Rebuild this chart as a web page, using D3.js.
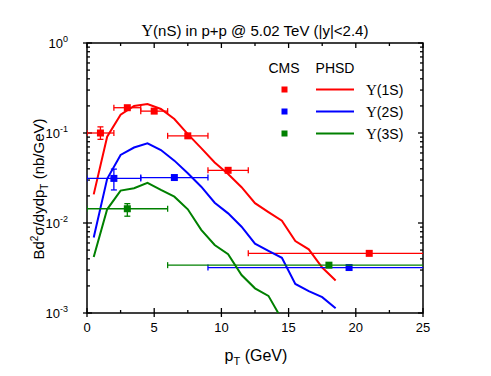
<!DOCTYPE html>
<html>
<head>
<meta charset="utf-8">
<script src="https://cdn.jsdelivr.net/npm/d3@7"></script>
<style>
  body { margin: 0; background: #fff; }
  svg { font-family: Arial, 'Liberation Sans', sans-serif; }
</style>
</head>
<body>
<svg width="491" height="376"></svg>
<script>
// CMS data points: pT, value, pT error low/high, value error low/high
const cms1S = [
  { x: 1, y: 0.1, xlo: 0, xhi: 2, ylo: 0.085, yhi: 0.117 },
  { x: 3, y: 0.191, xlo: 2, xhi: 4, ylo: 0.191, yhi: 0.191 },
  { x: 5, y: 0.175, xlo: 4, xhi: 6, ylo: 0.175, yhi: 0.175 },
  { x: 7.5, y: 0.093, xlo: 6, xhi: 9, ylo: 0.093, yhi: 0.093 },
  { x: 10.5, y: 0.0385, xlo: 9, xhi: 12, ylo: 0.0385, yhi: 0.0385 },
  { x: 21, y: 0.0046, xlo: 12, xhi: 30, ylo: 0.0046, yhi: 0.0046 }
];
const cms2S = [
  { x: 2, y: 0.0313, xlo: 0, xhi: 4, ylo: 0.0233, yhi: 0.0397 },
  { x: 6.5, y: 0.032, xlo: 4, xhi: 9, ylo: 0.032, yhi: 0.032 },
  { x: 19.5, y: 0.0032, xlo: 9, xhi: 30, ylo: 0.0032, yhi: 0.0032 }
];
const cms3S = [
  { x: 3, y: 0.0144, xlo: 0, xhi: 6, ylo: 0.0119, yhi: 0.0164 },
  { x: 18, y: 0.0034, xlo: 6, xhi: 30, ylo: 0.0034, yhi: 0.0034 }
];

// PHSD curves
const phsdX = [0.5, 1.5, 2.5, 3.5, 4.5, 5.5, 6.5, 7.5, 8.5, 9.5, 10.5, 11.5, 12.5, 13.5, 14.5, 15.5, 16.5, 17.5, 18.5];
const phsd1S = [0.0208, 0.091, 0.16, 0.2, 0.21, 0.185, 0.143, 0.097, 0.068, 0.047, 0.035, 0.025, 0.0166, 0.0132, 0.0106, 0.0063, 0.0051, 0.0032, 0.0023];
const phsd2S = [0.0069, 0.031, 0.057, 0.069, 0.0767, 0.0647, 0.0493, 0.0357, 0.0253, 0.0168, 0.0128, 0.0091, 0.0059, 0.0049, 0.0041, 0.0021, 0.00175, 0.0015, 0.00113];
const phsd3S = [0.0042, 0.0142, 0.0229, 0.0243, 0.028, 0.0233, 0.0196, 0.0142, 0.0084, 0.0057, 0.0045, 0.00264, 0.00188, 0.00155, 0.00085];

const xTicks = [0, 5, 10, 15, 20, 25];
const yTicks = [1e-3, 1e-2, 1e-1, 1];
const yExp = ['-3', '-2', '-1', '0'];

const series = [
  { name: '1S', color: '#ff0000', pts: cms1S, curve: phsd1S },
  { name: '2S', color: '#0000ff', pts: cms2S, curve: phsd2S },
  { name: '3S', color: '#008000', pts: cms3S, curve: phsd3S }
];

const margin = { top: 43, left: 87, right: 68, bottom: 63 };
const W = 491 - margin.left - margin.right;
const H = 376 - margin.top - margin.bottom;

const svg = d3.select('svg');
const g = svg.append('g').attr('transform', `translate(${margin.left}, ${margin.top})`);

const x = d3.scaleLinear().domain([0, 25]).range([0, W]);
const y = d3.scaleLog().domain([1e-3, 1]).range([H, 0]);

g.append('clipPath').attr('id', 'clip')
  .append('rect').attr('width', W).attr('height', H);

// minor ticks
const xMinor = d3.range(0, 25.1, 2.5);
const yMinor = [];
for (let e = -3; e < 0; e++) {
  for (let m = 2; m <= 9; m++) yMinor.push(m * Math.pow(10, e));
}

const axes = g.append('g').attr('stroke', '#000').attr('stroke-width', 1.3);
xMinor.forEach((v) => {
  const major = v % 5 === 0;
  const len = major ? 5 : 3;
  axes.append('line').attr('x1', x(v)).attr('x2', x(v)).attr('y1', H + (major ? 4 : 0)).attr('y2', H - len);
  axes.append('line').attr('x1', x(v)).attr('x2', x(v)).attr('y1', 0).attr('y2', len);
});
yMinor.forEach((v) => {
  axes.append('line').attr('x1', 0).attr('x2', 3).attr('y1', y(v)).attr('y2', y(v));
  axes.append('line').attr('x1', W).attr('x2', W - 3).attr('y1', y(v)).attr('y2', y(v));
});
yTicks.forEach((v) => {
  axes.append('line').attr('x1', -4).attr('x2', 5).attr('y1', y(v)).attr('y2', y(v));
  axes.append('line').attr('x1', W).attr('x2', W - 5).attr('y1', y(v)).attr('y2', y(v));
});
g.append('rect')
  .attr('width', W).attr('height', H)
  .attr('fill', 'none').attr('stroke', '#000').attr('stroke-width', 1.5);

// tick labels
g.selectAll('.xl').data(xTicks).join('text')
  .attr('x', (d) => x(d)).attr('y', H + 19)
  .attr('text-anchor', 'middle').style('font-size', '13px')
  .text((d) => d);

const yl = g.selectAll('.yl').data(yTicks).join('text')
  .attr('x', -19).attr('y', (d) => y(d) + 5)
  .attr('text-anchor', 'end').style('font-size', '13px');
yl.append('tspan').text('10');
yl.append('tspan').attr('dy', -6).style('font-size', '9px').text((d, i) => yExp[i]);

// data layer
const plot = g.append('g').attr('clip-path', 'url(#clip)');
const line = d3.line().x((d) => x(d[0])).y((d) => y(d[1]));

series.forEach((s) => {
  const pts = s.curve.map((v, i) => [phsdX[i], v]);
  plot.append('path').datum(pts)
    .attr('d', line)
    .attr('fill', 'none').attr('stroke', s.color).attr('stroke-width', 2);

  const eb = plot.append('g').attr('stroke', s.color).attr('stroke-width', 1.3);
  s.pts.forEach((p) => {
    eb.append('line').attr('x1', x(p.xlo)).attr('x2', x(p.xhi)).attr('y1', y(p.y)).attr('y2', y(p.y));
    eb.append('line').attr('x1', x(p.xlo)).attr('x2', x(p.xlo)).attr('y1', y(p.y) - 3).attr('y2', y(p.y) + 3);
    eb.append('line').attr('x1', x(p.xhi)).attr('x2', x(p.xhi)).attr('y1', y(p.y) - 3).attr('y2', y(p.y) + 3);
    if (p.ylo !== p.yhi) {
      eb.append('line').attr('x1', x(p.x)).attr('x2', x(p.x)).attr('y1', y(p.ylo)).attr('y2', y(p.yhi));
      eb.append('line').attr('x1', x(p.x) - 3).attr('x2', x(p.x) + 3).attr('y1', y(p.ylo)).attr('y2', y(p.ylo));
      eb.append('line').attr('x1', x(p.x) - 3).attr('x2', x(p.x) + 3).attr('y1', y(p.yhi)).attr('y2', y(p.yhi));
    }
  });
  plot.append('g').selectAll('rect').data(s.pts).join('rect')
    .attr('x', (d) => x(d.x) - 3.5).attr('y', (d) => y(d.y) - 3.5)
    .attr('width', 7).attr('height', 7)
    .attr('fill', s.color);
});

// legend
const leg = svg.append('g');
leg.append('text').attr('x', 284).attr('y', 73).attr('text-anchor', 'middle')
  .style('font-size', '14px').text('CMS');
leg.append('text').attr('x', 335).attr('y', 73).attr('text-anchor', 'middle')
  .style('font-size', '14px').text('PHSD');
series.forEach((s, i) => {
  const ly = 89.5 + i * 22;
  leg.append('rect').attr('x', 281.5).attr('y', ly - 3).attr('width', 6).attr('height', 6).attr('fill', s.color);
  leg.append('line').attr('x1', 316).attr('x2', 354).attr('y1', ly).attr('y2', ly)
    .attr('stroke', s.color).attr('stroke-width', 2);
  const t = leg.append('text').attr('x', 366).attr('y', ly + 5).style('font-size', '14px');
  t.append('tspan').style('font-family', "'Liberation Serif', serif").style('font-size', '15px').text('Υ');
  t.append('tspan').text(`(${s.name})`);
});

// title
const title = svg.append('text').attr('x', 255).attr('y', 36).attr('text-anchor', 'middle').style('font-size', '15px');
title.append('tspan').style('font-family', "'Liberation Serif', serif").style('font-size', '16px').text('Υ');
title.append('tspan').text('(nS) in p+p @ 5.02 TeV (|y|<2.4)');

// axis titles
const xt = svg.append('text').attr('x', 256).attr('y', 361).attr('text-anchor', 'middle').style('font-size', '16px');
xt.append('tspan').text('p');
xt.append('tspan').attr('dy', 4).style('font-size', '11px').text('T');
xt.append('tspan').attr('dy', -4).text(' (GeV)');

const yt = svg.append('text')
  .attr('transform', 'translate(44, 189) rotate(-90)')
  .attr('text-anchor', 'middle').style('font-size', '15px');
yt.append('tspan').text('Bd');
yt.append('tspan').attr('dy', -6).style('font-size', '10px').text('2');
yt.append('tspan').attr('dy', 6).text('σ/dydp');
yt.append('tspan').attr('dy', 4).style('font-size', '10px').text('T');
yt.append('tspan').attr('dy', -4).text(' (nb/GeV)');
</script>
</body>
</html>
